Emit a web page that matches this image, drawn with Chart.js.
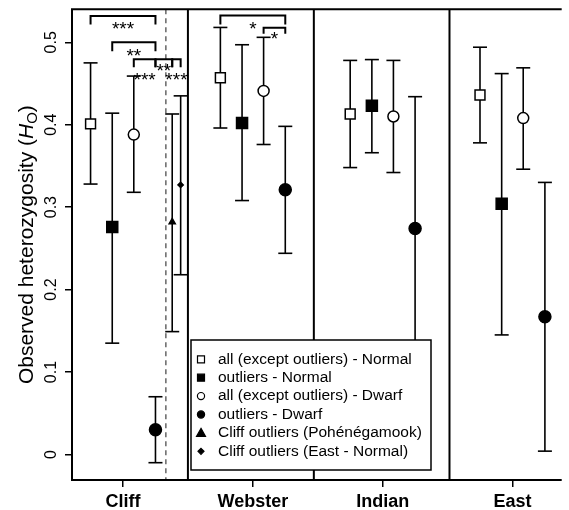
<!DOCTYPE html>
<html lang="en">
<head>
    <meta charset="UTF-8">
    <title>Observed heterozygosity</title>
    <style>
        body { margin: 0; background: #fff; }
        canvas { display: block; }
    </style>
    <script src="https://cdn.jsdelivr.net/npm/chart.js"></script>
</head>
<body>
<canvas id="chart" width="569" height="510"></canvas>
<script>
    // categories (lakes) and tick values
    const groups = ['Cliff', 'Webster', 'Indian', 'East'];
    const yTicks = [0, 0.1, 0.2, 0.3, 0.4, 0.5];

    const seriesLabels = [
        'all (except outliers) - Normal',
        'outliers - Normal',
        'all (except outliers) - Dwarf',
        'outliers - Dwarf',
        'Cliff outliers (Pohénégamook)',
        'Cliff outliers (East - Normal)'
    ];

    // mean Ho and interval limits, one value per lake
    const allNormalMean = [0.401, 0.457, 0.413, 0.436];
    const allNormalLow  = [0.328, 0.396, 0.348, 0.378];
    const allNormalHigh = [0.475, 0.518, 0.478, 0.494];

    const outNormalMean = [0.276, 0.402, 0.423, 0.304];
    const outNormalLow  = [0.135, 0.308, 0.366, 0.145];
    const outNormalHigh = [0.414, 0.497, 0.479, 0.462];

    const allDwarfMean = [0.388, 0.441, 0.410, 0.408];
    const allDwarfLow  = [0.318, 0.376, 0.342, 0.346];
    const allDwarfHigh = [0.459, 0.506, 0.478, 0.469];

    const outDwarfMean = [0.030, 0.321, 0.274, 0.167];
    const outDwarfLow  = [-0.010, 0.244, 0.114, 0.004];
    const outDwarfHigh = [0.070, 0.398, 0.434, 0.330];

    const pohMean = [0.282, null, null, null];
    const pohLow  = [0.149, null, null, null];
    const pohHigh = [0.413, null, null, null];

    const eastNormMean = [0.327, null, null, null];
    const eastNormLow  = [0.218, null, null, null];
    const eastNormHigh = [0.435, null, null, null];

    // significance brackets: lake, from series, to series, bracket level, label
    const sigGroup = [0, 0, 0, 0, 0, 1, 1];
    const sigFrom  = [0, 1, 2, 3, 4, 0, 2];
    const sigTo    = [3, 3, 3, 4, 5, 3, 3];
    const sigLevel = [0.532, 0.500, 0.4795, 0.4795, 0.4795, 0.5325, 0.5176];
    const sigLabel = ['***', '**', '***', '**', '***', '*', '*'];

    // ---- layout / style ----
    const means = [allNormalMean, outNormalMean, allDwarfMean, outDwarfMean, pohMean, eastNormMean];
    const lows  = [allNormalLow, outNormalLow, allDwarfLow, outDwarfLow, pohLow, eastNormLow];
    const highs = [allNormalHigh, outNormalHigh, allDwarfHigh, outDwarfHigh, pohHigh, eastNormHigh];
    const offsets = [-0.25, -0.083, 0.083, 0.25, 0.379, 0.444];
    const styles = [
        {pointStyle: 'rect', radius: 7, fill: '#fff'},
        {pointStyle: 'rect', radius: 7.8, fill: '#000'},
        {pointStyle: 'circle', radius: 5.5, fill: '#fff'},
        {pointStyle: 'circle', radius: 6, fill: '#000'},
        {pointStyle: 'triangle', radius: 3.5, fill: '#000'},
        {pointStyle: 'rectRot', radius: 2.6, fill: '#000'}
    ];
    const panelBreaks = [1.5, 2.47, 3.515];
    const dashedAt = 1.33;
    const sigLeg = [8.5, 9, 8, 8, 8, 9, 6];
    const sigDy  = [8.5, 9, 16, 7, 16, 9, 6.5];
    const FONT = '"Liberation Sans", Arial, Helvetica, sans-serif';

    const datasets = means.map((m, si) => ({
        label: seriesLabels[si],
        data: m.map((v, g) => v == null ? null : {x: g + 1 + offsets[si], y: v}).filter(p => p),
        pointStyle: styles[si].pointStyle,
        pointRadius: styles[si].radius,
        backgroundColor: styles[si].fill,
        borderColor: '#000',
        borderWidth: 1.5,
        showLine: false
    }));

    function seg(ctx, x1, y1, x2, y2) {
        ctx.beginPath();
        ctx.moveTo(x1, y1);
        ctx.lineTo(x2, y2);
        ctx.stroke();
    }

    const decorations = {
        id: 'decorations',
        beforeDatasetsDraw(chart) {
            const {ctx, chartArea: a, scales: {x, y}} = chart;
            ctx.save();
            ctx.strokeStyle = '#000';
            ctx.lineWidth = 2;
            panelBreaks.forEach(b => {
                const px = x.getPixelForValue(b);
                seg(ctx, px, a.top, px, a.bottom);
            });
            ctx.setLineDash([5, 4]);
            ctx.strokeStyle = '#666';
            ctx.lineWidth = 1.5;
            const dx = x.getPixelForValue(dashedAt);
            seg(ctx, dx, a.top, dx, a.bottom);
            ctx.setLineDash([]);

            // error bars
            ctx.strokeStyle = '#000';
            ctx.lineWidth = 1.6;
            means.forEach((m, si) => m.forEach((v, g) => {
                if (v == null) return;
                const px = x.getPixelForValue(g + 1 + offsets[si]);
                const lo = y.getPixelForValue(lows[si][g]);
                const hi = y.getPixelForValue(highs[si][g]);
                seg(ctx, px, lo, px, hi);
                seg(ctx, px - 7, lo, px + 7, lo);
                seg(ctx, px - 7, hi, px + 7, hi);
            }));
            ctx.restore();
        },
        afterDraw(chart) {
            const {ctx, chartArea: a, scales: {x, y}} = chart;
            ctx.save();

            // frame (left, top, bottom)
            ctx.strokeStyle = '#000';
            ctx.lineWidth = 2;
            ctx.beginPath();
            ctx.moveTo(a.right + 2, a.top);
            ctx.lineTo(a.left, a.top);
            ctx.lineTo(a.left, a.bottom);
            ctx.lineTo(a.right + 2, a.bottom);
            ctx.stroke();

            // y tick labels, rotated
            ctx.fillStyle = '#000';
            ctx.font = '16px ' + FONT;
            ctx.textAlign = 'center';
            ctx.textBaseline = 'alphabetic';
            yTicks.forEach(t => {
                ctx.save();
                ctx.translate(55.5, y.getPixelForValue(t));
                ctx.rotate(-Math.PI / 2);
                ctx.fillText(String(t), 0, 0);
                ctx.restore();
            });

            // y axis title with italic H and subscript O
            const parts = [
                {t: 'Observed heterozygosity (', f: '21px ' + FONT, dy: 0},
                {t: 'H', f: 'italic 21px ' + FONT, dy: 0},
                {t: 'O', f: '15px ' + FONT, dy: 4},
                {t: ')', f: '21px ' + FONT, dy: 0}
            ];
            let total = 0;
            parts.forEach(p => { ctx.font = p.f; p.w = ctx.measureText(p.t).width; total += p.w; });
            ctx.save();
            ctx.translate(33, (a.top + a.bottom) / 2);
            ctx.rotate(-Math.PI / 2);
            ctx.textAlign = 'left';
            let cx = -total / 2;
            parts.forEach(p => { ctx.font = p.f; ctx.fillText(p.t, cx, p.dy); cx += p.w; });
            ctx.restore();

            // significance brackets
            ctx.lineWidth = 2;
            ctx.font = '19px ' + FONT;
            ctx.textAlign = 'center';
            sigLabel.forEach((lab, i) => {
                const g = sigGroup[i] + 1;
                const x1 = x.getPixelForValue(g + offsets[sigFrom[i]]);
                const x2 = x.getPixelForValue(g + offsets[sigTo[i]]);
                const py = y.getPixelForValue(sigLevel[i]);
                ctx.beginPath();
                ctx.moveTo(x1, py + sigLeg[i]);
                ctx.lineTo(x1, py);
                ctx.lineTo(x2, py);
                ctx.lineTo(x2, py + sigLeg[i]);
                ctx.stroke();
                ctx.fillText(lab, (x1 + x2) / 2, py + sigDy[i] + 10.9);
            });

            // legend box
            const bx = 191, by = 340, bw = 240, bh = 130;
            ctx.fillStyle = '#fff';
            ctx.fillRect(bx, by, bw, bh);
            ctx.lineWidth = 1.5;
            ctx.strokeRect(bx, by, bw, bh);
            ctx.font = '15.5px ' + FONT;
            ctx.textAlign = 'left';
            ctx.textBaseline = 'middle';
            seriesLabels.forEach((lab, i) => {
                const ly = by + 19.3 + i * 18.4;
                const mx = bx + 10;
                const st = styles[i];
                ctx.fillStyle = st.fill;
                ctx.strokeStyle = '#000';
                ctx.lineWidth = 1.2;
                ctx.beginPath();
                if (st.pointStyle === 'rect') {
                    ctx.rect(mx - 3.5, ly - 3.5, 7, 7);
                } else if (st.pointStyle === 'circle') {
                    ctx.arc(mx, ly, 3.6, 0, Math.PI * 2);
                } else if (st.pointStyle === 'triangle') {
                    ctx.moveTo(mx, ly - 4.5);
                    ctx.lineTo(mx + 4.5, ly + 3.5);
                    ctx.lineTo(mx - 4.5, ly + 3.5);
                    ctx.closePath();
                } else {
                    ctx.moveTo(mx, ly - 3);
                    ctx.lineTo(mx + 3, ly);
                    ctx.lineTo(mx, ly + 3);
                    ctx.lineTo(mx - 3, ly);
                    ctx.closePath();
                }
                ctx.fill();
                ctx.stroke();
                ctx.fillStyle = '#000';
                ctx.fillText(lab, bx + 27, ly);
            });
            ctx.restore();
        }
    };

    const chart = new Chart(document.getElementById('chart'), {
        type: 'scatter',
        data: {datasets: datasets},
        options: {
            responsive: false,
            animation: false,
            devicePixelRatio: 1,
            layout: {padding: {top: 9, left: 0, right: 0, bottom: 0}},
            plugins: {legend: {display: false}, tooltip: {enabled: false}},
            scales: {
                x: {
                    type: 'linear',
                    position: 'bottom',
                    min: 0.607,
                    max: 4.364,
                    afterBuildTicks: s => { s.ticks = groups.map((_, i) => ({value: i + 1})); },
                    afterFit: s => { s.height = 30; },
                    ticks: {
                        callback: v => groups[v - 1],
                        color: '#000',
                        font: {family: FONT, size: 18, weight: 'bold'},
                        padding: 4,
                        maxRotation: 0
                    },
                    grid: {drawOnChartArea: false, drawTicks: true, tickLength: 7, color: '#000', lineWidth: 1.5},
                    border: {display: false}
                },
                y: {
                    type: 'linear',
                    min: -0.031,
                    max: 0.540,
                    afterBuildTicks: s => { s.ticks = yTicks.map(v => ({value: v})); },
                    afterFit: s => { s.width = 72; },
                    ticks: {display: false},
                    grid: {drawOnChartArea: false, drawTicks: true, tickLength: 7, color: '#000', lineWidth: 1.5},
                    border: {display: false}
                }
            }
        },
        plugins: [decorations]
    });
</script>
</body>
</html>
